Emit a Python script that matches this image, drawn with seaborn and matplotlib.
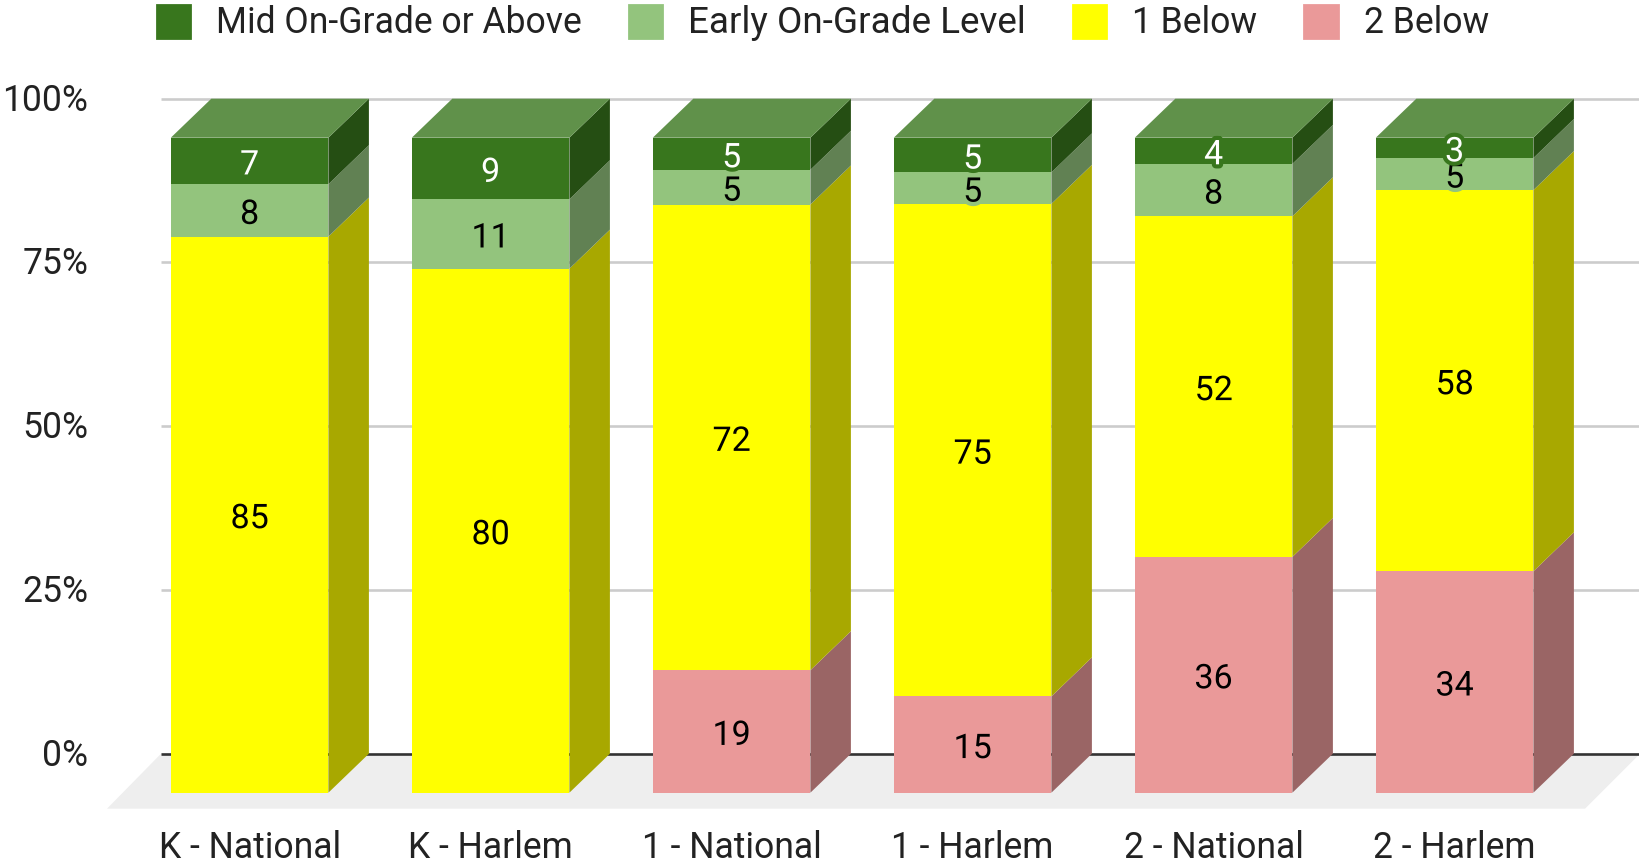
import matplotlib
matplotlib.use("Agg")
import matplotlib.pyplot as plt
import matplotlib.colors as mcolors
import matplotlib.patheffects as pe
from matplotlib.patches import Patch
from matplotlib.transforms import ScaledTranslation
import numpy as np
import pandas as pd
import seaborn as sns

# ---- data ----
categories = ["K - National", "K - Harlem", "1 - National", "1 - Harlem", "2 - National", "2 - Harlem"]
# stacked shares (percent)
two_below = [0, 0, 18.7, 14.7, 36.0, 33.8]
one_below = [84.9, 80.0, 71.1, 75.2, 52.0, 58.2]
early_on_grade = [8.0, 10.6, 5.3, 4.8, 8.0, 4.9]
mid_on_grade = [7.1, 9.4, 4.9, 5.3, 4.0, 3.1]
# value labels printed on the bars
two_below_labels = [0, 0, 19, 15, 36, 34]
one_below_labels = [85, 80, 72, 75, 52, 58]
early_on_grade_labels = [8, 11, 5, 5, 8, 5]
mid_on_grade_labels = [7, 9, 5, 5, 4, 3]
series_names = ["2 Below", "1 Below", "Early On-Grade Level", "Mid On-Grade or Above"]
series_colors = ["#ea9999", "#ffff00", "#93c47d", "#38761d"]
label_colors = ["#000000", "#000000", "#000000", "#ffffff"]
y_ticks = [0, 25, 50, 75, 100]
y_tick_labels = ["0%", "25%", "50%", "75%", "100%"]
# ---------------

W, H = 1640, 865
sns.set_theme(style="white")
plt.rcParams["font.family"] = ["Roboto", "DejaVu Sans"]
FS = 25.6
FS_VAL = 24.5

fig = plt.figure(figsize=(W / 100, H / 100), dpi=100)
ax_l, ax_r, ax_t, ax_b = 107, 1640, 98.7, 808.7
ax = fig.add_axes([ax_l / W, 1 - ax_b / H, (ax_r - ax_l) / W, (ax_b - ax_t) / H])

step_px = 241.0
y_px = 6.55
first_center = 249.6
base_px = 792.7
bar_w = 157.6 / step_px
dx = 40.5 / step_px
dy = 39 / y_px
label_shift = 4.5 / y_px

shares = np.array([two_below, one_below, early_on_grade, mid_on_grade], dtype=float)
labels = np.array([two_below_labels, one_below_labels, early_on_grade_labels, mid_on_grade_labels])
bottoms = np.vstack([np.zeros(len(categories)), np.cumsum(shares, axis=0)[:-1]])

for name, col, sh, bot in zip(series_names, series_colors, shares, bottoms):
    df = pd.DataFrame({"group": categories, "share": sh})
    sns.barplot(data=df, x="group", y="share", order=categories, color=col, saturation=1,
                width=bar_w, bottom=bot, linewidth=0, errorbar=None, ax=ax, zorder=3)

xlim = ((ax_l - first_center) / step_px, (ax_r - first_center) / step_px)
ylim = ((base_px - ax_b) / y_px, (base_px - ax_t) / y_px)
ax.set_xlim(*xlim)
ax.set_ylim(*ylim)

wall_left = xlim[0] + (161 - ax_l) / step_px
wall_right = xlim[1]
floor_right = wall_right - (1640 - 1585) / step_px

# floor
ax.fill([xlim[0], floor_right, wall_right, wall_left], [ylim[0], ylim[0], dy, dy],
        color="#eeeeee", lw=0, zorder=1, clip_on=False)
# wall gridlines
for v in y_ticks:
    ax.hlines(v + dy, wall_left, wall_right, color="#333333" if v == 0 else "#cccccc",
              lw=1.9, zorder=2, clip_on=False)


def darker(c):
    return tuple(np.array(mcolors.to_rgb(c)) * 0.66)


def lighter(c):
    rgb = np.array(mcolors.to_rgb(c))
    return tuple(rgb + (1 - rgb) * 0.2)


x_pos = np.arange(len(categories))
for k, col in enumerate(series_colors):
    for i in x_pos:
        if shares[k, i] == 0:
            continue
        r = i + bar_w / 2
        y0 = bottoms[k, i]
        y1 = y0 + shares[k, i]
        ax.fill([r, r + dx, r + dx, r], [y0, y0 + dy, y1 + dy, y1], color=darker(col), lw=0, zorder=3, clip_on=False)
        if k == len(series_colors) - 1:
            l = i - bar_w / 2
            ax.fill([l, r, r + dx, l + dx], [y1, y1, y1 + dy, y1 + dy], color=lighter(col), lw=0, zorder=3, clip_on=False)

for k, (col, lab) in enumerate(zip(series_colors, label_colors)):
    for i in x_pos:
        if shares[k, i] == 0:
            continue
        ax.text(i, bottoms[k, i] + shares[k, i] / 2 - label_shift, str(labels[k, i]), ha="center", va="center",
                fontsize=FS_VAL, color=lab, zorder=5 + k,
                path_effects=[pe.withStroke(linewidth=6, foreground=col)])

ax.set_xlabel("")
ax.set_ylabel("")
ax.set_xticks(x_pos)
ax.set_xticklabels(categories)
ax.set_yticks([v + dy for v in y_ticks])
ax.set_yticklabels(y_tick_labels)
ax.tick_params(axis="x", length=0, pad=15.6, labelsize=FS, labelcolor="#222222")
ax.tick_params(axis="y", length=0, pad=13.6, labelsize=FS, labelcolor="#222222")
for lbl in ax.get_yticklabels():
    lbl.set_transform(lbl.get_transform() + ScaledTranslation(0, 2 / 100, fig.dpi_scale_trans))
ax.grid(False)
sns.despine(ax=ax, left=True, bottom=True)
ax.patch.set_alpha(0)

order = [3, 2, 1, 0]
handles = [Patch(facecolor=series_colors[k], edgecolor=series_colors[k], linewidth=2, joinstyle="round",
                 label=series_names[k]) for k in order]
leg = fig.legend(handles=handles, loc="upper left", bbox_to_anchor=(157 / W, 1 - 4.5 / H), ncol=4,
                 frameon=False, fontsize=FS, labelcolor="#222222", borderpad=0, borderaxespad=0,
                 handlelength=0.93, handleheight=1.08, handletextpad=0.74, columnspacing=1.32)
leg.get_texts()[1].set_fontsize(26.6)

fig.savefig("out.png", dpi=100)
